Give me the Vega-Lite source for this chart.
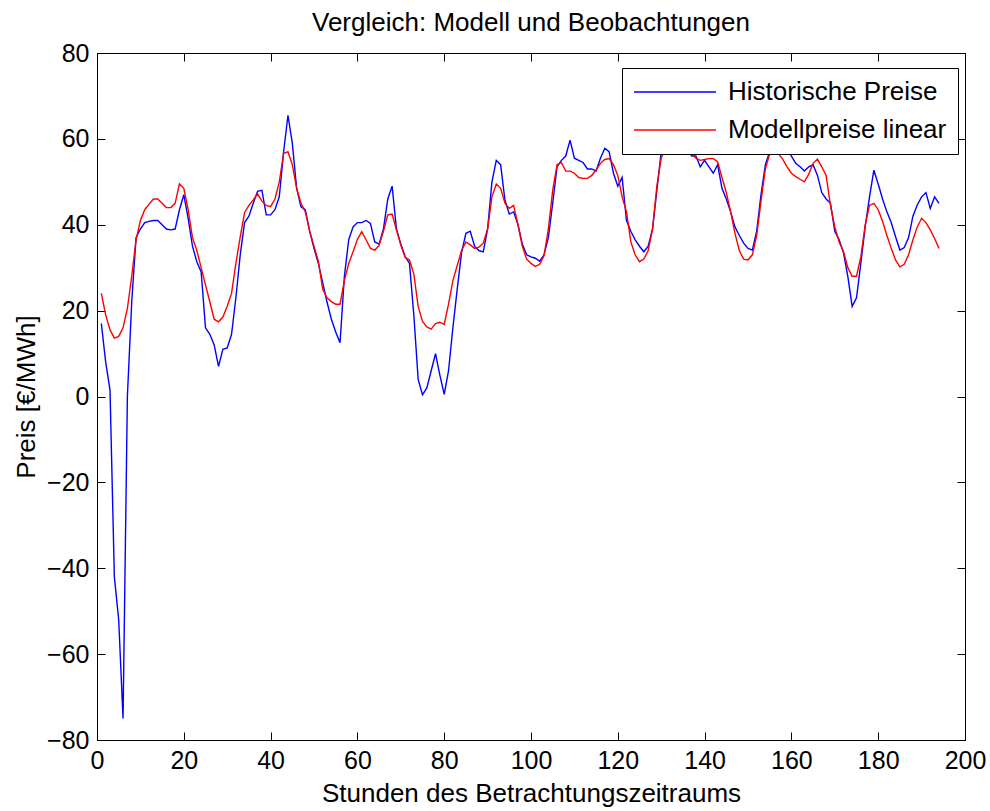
{
  "$schema": "https://vega.github.io/schema/vega-lite/v6.json",
  "width": 868,
  "height": 687,
  "autosize": {"type": "none"},
  "padding": {"left": 97, "top": 53, "right": 25, "bottom": 71},
  "background": "white",
  "title": {"text": "Vergleich: Modell und Beobachtungen", "font": "Liberation Sans", "fontSize": 26, "fontWeight": "normal", "color": "black", "offset": 5, "anchor": "middle"},
  "config": {
    "view": {"stroke": "black", "strokeWidth": 1},
    "axis": {"grid": false, "domainColor": "black", "tickColor": "black", "labelColor": "black", "titleColor": "black", "labelFont": "Liberation Sans", "titleFont": "Liberation Sans", "labelFontSize": 25, "titleFontSize": 26, "titleFontWeight": "normal", "tickSize": -8, "domainWidth": 1, "tickWidth": 1}
  },
  "data": {"values": [
    {"h":1,"H":17,"M":24},{"h":2,"H":8,"M":19},{"h":3,"H":1.5,"M":15.5},{"h":4,"H":-42,"M":13.6},{"h":5,"H":-52,"M":14},
    {"h":6,"H":-75,"M":16},{"h":7,"H":0,"M":20.5},{"h":8,"H":22,"M":28},{"h":9,"H":37,"M":36.5},{"h":10,"H":39,"M":41},
    {"h":11,"H":40.5,"M":43.5},{"h":12,"H":40.8,"M":44.8},{"h":13,"H":41,"M":46},{"h":14,"H":41,"M":46},{"h":15,"H":40,"M":45},
    {"h":16,"H":39,"M":44},{"h":17,"H":38.8,"M":44},{"h":18,"H":39,"M":45},{"h":19,"H":43.5,"M":49.5},{"h":20,"H":47,"M":48.5},
    {"h":21,"H":41.5,"M":43.5},{"h":22,"H":35,"M":37},{"h":23,"H":31.4,"M":34},{"h":24,"H":29,"M":30},{"h":25,"H":16,"M":26},
    {"h":26,"H":14.5,"M":22},{"h":27,"H":12,"M":18},{"h":28,"H":7,"M":17.4},{"h":29,"H":11,"M":18.5},{"h":30,"H":11.3,"M":21},
    {"h":31,"H":14.5,"M":24},{"h":32,"H":23,"M":31},{"h":33,"H":33,"M":37.2},{"h":34,"H":40.5,"M":42.8},{"h":35,"H":42,"M":44.5},
    {"h":36,"H":45,"M":45.8},{"h":37,"H":47.8,"M":47.2},{"h":38,"H":48,"M":45.5},{"h":39,"H":42.3,"M":44.5},{"h":40,"H":42.3,"M":44.2},
    {"h":41,"H":43.5,"M":46},{"h":42,"H":46.5,"M":50},{"h":43,"H":57,"M":56.6},{"h":44,"H":65.5,"M":57},{"h":45,"H":59,"M":54},
    {"h":46,"H":48.5,"M":48.5},{"h":47,"H":44.2,"M":45},{"h":48,"H":43.5,"M":43},{"h":49,"H":38.5,"M":38.5},{"h":50,"H":34.5,"M":35},
    {"h":51,"H":31,"M":31.5},{"h":52,"H":26.5,"M":25},{"h":53,"H":22,"M":23},{"h":54,"H":18,"M":22.1},{"h":55,"H":15,"M":21.5},
    {"h":56,"H":12.5,"M":21.5},{"h":57,"H":28,"M":27},{"h":58,"H":36.5,"M":31},{"h":59,"H":39.5,"M":33.7},{"h":60,"H":40.5,"M":36.6},
    {"h":61,"H":40.5,"M":38.4},{"h":62,"H":41,"M":36.5},{"h":63,"H":40.3,"M":34.5},{"h":64,"H":36,"M":34.1},{"h":65,"H":35.5,"M":35.2},
    {"h":66,"H":39,"M":38.5},{"h":67,"H":46,"M":42.3},{"h":68,"H":49,"M":42.5},{"h":69,"H":39,"M":38.8},{"h":70,"H":35.5,"M":35.3},
    {"h":71,"H":32.6,"M":32.4},{"h":72,"H":31,"M":31.8},{"h":73,"H":19,"M":28.5},{"h":74,"H":4,"M":21},{"h":75,"H":0.4,"M":17.5},
    {"h":76,"H":2,"M":16.2},{"h":77,"H":6,"M":15.7},{"h":78,"H":10,"M":17},{"h":79,"H":5,"M":17.3},{"h":80,"H":0.5,"M":16.8},
    {"h":81,"H":6,"M":21.5},{"h":82,"H":16,"M":27},{"h":83,"H":25,"M":30.5},{"h":84,"H":33.5,"M":34},{"h":85,"H":38,"M":36},
    {"h":86,"H":38.5,"M":35.3},{"h":87,"H":35,"M":34.5},{"h":88,"H":34,"M":34.8},{"h":89,"H":33.7,"M":35.7},{"h":90,"H":39,"M":39},
    {"h":91,"H":50,"M":46.5},{"h":92,"H":55,"M":49.5},{"h":93,"H":54,"M":48.5},{"h":94,"H":45.7,"M":45},{"h":95,"H":42.5,"M":43.8},
    {"h":96,"H":43,"M":44.5},{"h":97,"H":40,"M":40},{"h":98,"H":35.5,"M":35},{"h":99,"H":33,"M":32},{"h":100,"H":32.5,"M":31},
    {"h":101,"H":32.2,"M":30.3},{"h":102,"H":31.5,"M":30.8},{"h":103,"H":33,"M":32.8},{"h":104,"H":37,"M":39},{"h":105,"H":45,"M":48},
    {"h":106,"H":53.5,"M":54},{"h":107,"H":55,"M":54.5},{"h":108,"H":56,"M":52.5},{"h":109,"H":59.7,"M":52.5},{"h":110,"H":55.5,"M":52},
    {"h":111,"H":55,"M":51},{"h":112,"H":54.5,"M":50.8},{"h":113,"H":53,"M":50.8},{"h":114,"H":53,"M":51.5},{"h":115,"H":52.5,"M":52.8},
    {"h":116,"H":55.5,"M":54.3},{"h":117,"H":57.8,"M":55.2},{"h":118,"H":57,"M":55.4},{"h":119,"H":52,"M":54},{"h":120,"H":49,"M":51.5},
    {"h":121,"H":51,"M":46.5},{"h":122,"H":41,"M":43},{"h":123,"H":38.5,"M":36},{"h":124,"H":36.5,"M":33},{"h":125,"H":35,"M":31.4},
    {"h":126,"H":33.7,"M":32},{"h":127,"H":35,"M":34},{"h":128,"H":39,"M":39},{"h":129,"H":48,"M":49},{"h":130,"H":57,"M":55.5},
    {"h":131,"H":62,"M":58},{"h":132,"H":63,"M":59},{"h":133,"H":62,"M":59},{"h":134,"H":61,"M":58.5},{"h":135,"H":60,"M":58},
    {"h":136,"H":58,"M":57},{"h":137,"H":56,"M":56.5},{"h":138,"H":56,"M":55.5},{"h":139,"H":53.5,"M":55},{"h":140,"H":55,"M":55.2},
    {"h":141,"H":53.5,"M":55.4},{"h":142,"H":52,"M":55.4},{"h":143,"H":54,"M":54.7},{"h":144,"H":48.5,"M":51},{"h":145,"H":46,"M":47.5},
    {"h":146,"H":43,"M":43},{"h":147,"H":39.5,"M":38},{"h":148,"H":37.5,"M":34},{"h":149,"H":35.7,"M":32},{"h":150,"H":34.5,"M":31.8},
    {"h":151,"H":34.1,"M":33},{"h":152,"H":38.5,"M":37.5},{"h":153,"H":47,"M":45.5},{"h":154,"H":54,"M":53},{"h":155,"H":57,"M":56.5},
    {"h":156,"H":59,"M":57},{"h":157,"H":60,"M":56.5},{"h":158,"H":59,"M":55.3},{"h":159,"H":58,"M":53.5},{"h":160,"H":56,"M":52},
    {"h":161,"H":54.3,"M":51.2},{"h":162,"H":53.5,"M":50.6},{"h":163,"H":52.5,"M":50},{"h":164,"H":53.5,"M":51.8},{"h":165,"H":54,"M":54.3},
    {"h":166,"H":51.5,"M":55.3},{"h":167,"H":47.5,"M":53.5},{"h":168,"H":46,"M":51.5},{"h":169,"H":45,"M":44.5},{"h":170,"H":38.5,"M":39.5},
    {"h":171,"H":36.5,"M":36},{"h":172,"H":33.5,"M":33.8},{"h":173,"H":28,"M":30},{"h":174,"H":21,"M":28},{"h":175,"H":23,"M":28},
    {"h":176,"H":31,"M":32.5},{"h":177,"H":39.5,"M":40},{"h":178,"H":46.5,"M":44.5},{"h":179,"H":52.7,"M":45},{"h":180,"H":49.5,"M":43.5},
    {"h":181,"H":46,"M":40.8},{"h":182,"H":43,"M":37.5},{"h":183,"H":40.5,"M":34.5},{"h":184,"H":37.2,"M":31.8},{"h":185,"H":34.1,"M":30.2},
    {"h":186,"H":34.7,"M":30.8},{"h":187,"H":37,"M":33},{"h":188,"H":42,"M":36.5},{"h":189,"H":44.6,"M":39.5},{"h":190,"H":46.5,"M":41.5},
    {"h":191,"H":47.5,"M":40.5},{"h":192,"H":43.8,"M":38.8},{"h":193,"H":46.5,"M":36.8},{"h":194,"H":45,"M":34.5}
  ]},
  "transform": [{"fold": ["H", "M"], "as": ["serie", "preis"]}],
  "layer": [
    {
      "mark": {"type": "line", "strokeWidth": 1.4, "interpolate": "linear"},
      "encoding": {
        "x": {"field": "h", "type": "quantitative", "scale": {"domain": [0, 200], "nice": false, "zero": false},
              "axis": {"orient": "bottom", "values": [0,20,40,60,80,100,120,140,160,180,200], "title": "Stunden des Betrachtungszeitraums", "labelPadding": 16, "titlePadding": 7, "labelFlush": false}},
        "y": {"field": "preis", "type": "quantitative", "scale": {"domain": [-80, 80], "nice": false, "zero": false},
              "axis": {"orient": "left", "values": [-80,-60,-40,-20,0,20,40,60,80], "title": "Preis [€/MWh]", "labelPadding": 16, "titlePadding": 7}},
        "color": {"field": "serie", "type": "nominal",
                  "scale": {"domain": ["H", "M"], "range": ["#0000FF", "#FF0000"]},
                  "legend": {"title": null, "orient": "none", "legendX": 525, "legendY": 15,
                             "labelExpr": "datum.value == 'H' ? 'Historische Preise' : 'Modellpreise linear'",
                             "symbolType": "stroke", "symbolSize": 6724, "symbolStrokeWidth": 1.5,
                             "labelFont": "Liberation Sans", "labelFontSize": 26, "labelColor": "black", "labelOffset": 11, "labelLimit": 400,
                             "clipHeight": 26, "strokeColor": "black", "fillColor": "white", "padding": 11, "rowPadding": 12}}
      }
    },
    {
      "mark": {"type": "line", "opacity": 0},
      "encoding": {
        "x": {"field": "h", "type": "quantitative", "axis": {"orient": "top", "values": [0,20,40,60,80,100,120,140,160,180,200], "labels": false, "title": null}},
        "y": {"field": "preis", "type": "quantitative", "axis": {"orient": "right", "values": [-80,-60,-40,-20,0,20,40,60,80], "labels": false, "title": null}},
        "detail": {"field": "serie"}
      }
    }
  ],
  "resolve": {"axis": {"x": "independent", "y": "independent"}}
}
